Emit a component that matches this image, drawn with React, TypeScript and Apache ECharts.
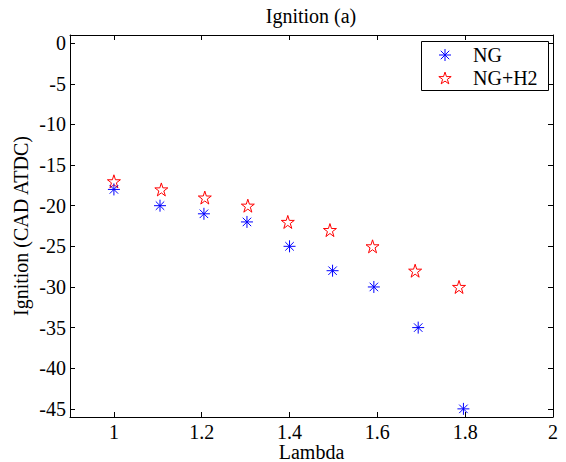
import { useEffect, useRef } from 'react';
import * as echarts from 'echarts';

// values
const ngLambda = [1, 1.105, 1.205, 1.303, 1.4, 1.498, 1.592, 1.693, 1.796];
const ngIgnition = [-18, -20, -21, -22, -25, -28, -30, -35, -45];
const h2Lambda = [1, 1.108, 1.207, 1.305, 1.396, 1.492, 1.589, 1.686, 1.786];
const h2Ignition = [-17, -18, -19, -20, -22, -23, -25, -28, -30];

const seriesNames = ['NG', 'NG+H2'];
const seriesColors = ['#0000ff', '#ff0000'];

const FONT = "'Liberation Serif', 'Times New Roman', serif";
const FS = 20;

// matlab style markers, drawn about 12px across
const asteriskD = 'M0,-6L0,6M-6,0L6,0M-4.24,-4.24L4.24,4.24M-4.24,4.24L4.24,-4.24';
const starD =
    'M0,-6.5L1.459,-2.009L6.182,-2.009L2.361,0.767L3.821,5.259L0,2.483L-3.821,5.259L-2.361,0.767L-6.182,-2.009L-1.459,-2.009Z';

echarts.graphic.registerShape('asteriskMark', echarts.graphic.extendPath(asteriskD, {}));
echarts.graphic.registerShape('starMark', echarts.graphic.extendPath(starD, {}));

export default function App() {
    const chartRef = useRef<HTMLDivElement>(null);

    useEffect(() => {
        if (!chartRef.current) return;
        const chart = echarts.init(chartRef.current, undefined, { renderer: 'svg' });

        const boxAxis = {
            axisLine: { show: true, onZero: false, lineStyle: { color: '#000', width: 1 } },
            axisTick: { show: true, inside: true, length: 5, lineStyle: { color: '#000' } },
            splitLine: { show: false },
        };
        const textStyle = { fontFamily: FONT, fontSize: FS, color: '#000' };

        // legend box, drawn by hand so it sits like matlab's
        const legendX = 421;
        const legendY = 41;
        const rowY = [55, 78];
        const legendGraphic = [
            {
                type: 'rect',
                shape: { x: legendX + 0.5, y: legendY + 0.5, width: 127, height: 49 },
                style: { fill: '#fff', stroke: '#000', lineWidth: 1 },
                z: 10,
            },
            ...seriesNames.flatMap((name, i) => [
                {
                    type: i === 0 ? 'asteriskMark' : 'starMark',
                    x: 445,
                    y: rowY[i] + (i === 0 ? 0 : 0.6),
                    style: { fill: 'none', stroke: seriesColors[i], lineWidth: 1 },
                    z: 11,
                },
                {
                    type: 'text',
                    x: 473,
                    y: rowY[i],
                    style: {
                        text: name,
                        font: `${FS}px ${FONT}`,
                        fill: '#000',
                        verticalAlign: 'middle',
                        align: 'left',
                    },
                    z: 11,
                },
            ]),
        ];

        const option = {
            animation: false,
            backgroundColor: '#fff',
            title: {
                text: 'Ignition (a)',
                left: 311,
                textAlign: 'center',
                top: 6,
                padding: 0,
                textStyle: { ...textStyle, fontWeight: 'normal' },
            },
            grid: {
                left: 70,
                top: 35,
                width: 483,
                height: 382,
                containLabel: false,
                outerBoundsMode: 'none',
            },
            graphic: legendGraphic,
            xAxis: [
                {
                    type: 'value',
                    min: 0.9,
                    max: 2,
                    splitNumber: 5,
                    minInterval: 0.2,
                    maxInterval: 0.2,
                    name: 'Lambda',
                    nameLocation: 'middle',
                    nameGap: 25,
                    nameMoveOverlap: false,
                    nameTextStyle: textStyle,
                    ...boxAxis,
                    axisLabel: { ...textStyle, margin: 5, showMinLabel: false },
                },
                {
                    type: 'value',
                    position: 'top',
                    min: 0.9,
                    max: 2,
                    splitNumber: 5,
                    minInterval: 0.2,
                    maxInterval: 0.2,
                    ...boxAxis,
                    axisLabel: { show: false },
                },
            ],
            yAxis: [
                {
                    type: 'value',
                    min: -46,
                    max: 1,
                    splitNumber: 10,
                    minInterval: 5,
                    maxInterval: 5,
                    name: 'Ignition (CAD ATDC)',
                    nameLocation: 'middle',
                    nameGap: 39,
                    nameMoveOverlap: false,
                    nameTextStyle: textStyle,
                    ...boxAxis,
                    axisLabel: { ...textStyle, margin: 4, showMinLabel: false, showMaxLabel: false },
                },
                {
                    type: 'value',
                    position: 'right',
                    min: -46,
                    max: 1,
                    splitNumber: 10,
                    minInterval: 5,
                    maxInterval: 5,
                    ...boxAxis,
                    axisLabel: { show: false },
                },
            ],
            series: [
                {
                    name: seriesNames[0],
                    type: 'scatter',
                    symbol: 'path://' + asteriskD,
                    symbolSize: 12,
                    data: ngLambda.map((x, i) => [x, ngIgnition[i]]),
                    itemStyle: { color: 'rgba(0,0,0,0)', borderColor: seriesColors[0], borderWidth: 1, opacity: 1 },
                    z: 3,
                },
                {
                    name: seriesNames[1],
                    type: 'scatter',
                    symbol: 'path://' + starD,
                    symbolSize: 13,
                    data: h2Lambda.map((x, i) => [x, h2Ignition[i]]),
                    itemStyle: { color: 'rgba(0,0,0,0)', borderColor: seriesColors[1], borderWidth: 1, opacity: 1 },
                    z: 2,
                },
            ],
        };

        chart.setOption(option);

        return () => {
            chart.dispose();
        };
    }, []);

    return (
        <div
            ref={chartRef}
            style={{ position: 'absolute', left: 0, top: 0, width: 566, height: 462 }}
        />
    );
}
